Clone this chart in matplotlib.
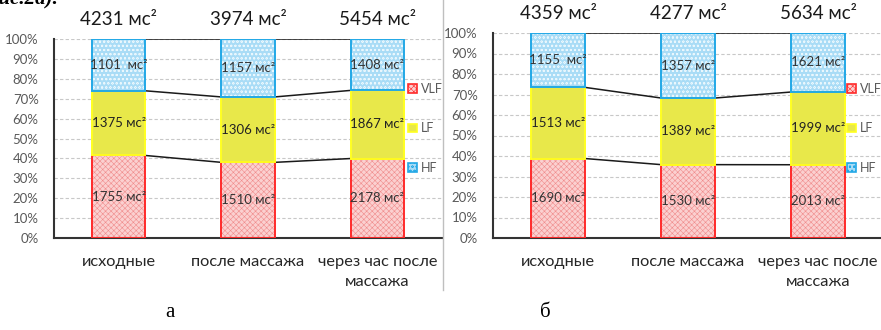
import numpy as np
import matplotlib
matplotlib.use("Agg")
from matplotlib import pyplot as plt
from matplotlib.patches import Patch
from matplotlib.lines import Line2D

# данные
categories = ['исходные', 'после массажа', 'через час после\nмассажа']
totals_a = ['4231', '3974', '5454']
vlf_a = [1755, 1510, 2178]
lf_a = [1375, 1306, 1867]
hf_a = [1101, 1157, 1408]
hf_text_a = ['1101  мс²', '1157 мс²', '1408 мс²']

totals_b = ['4359', '4277', '5634']
vlf_b = [1690, 1530, 2013]
lf_b = [1513, 1389, 1999]
hf_b = [1155, 1357, 1621]
hf_text_b = ['1155  мс²', '1357 мс²', '1621 мс²']

yticks = np.arange(0, 101, 10)

plt.rcParams['hatch.linewidth'] = 0.4
FONT = ['Lato', 'DejaVu Sans']
GRAY = '#595959'

red_fill, red_edge, red_hatch = '#fbd0d0', '#ff2a2a', '#f08c8c'
yel_fill, yel_edge = '#e8e84a', '#ffff20'
blue_fill, blue_edge, blue_hatch = '#a9dcf6', '#22a8e6', '#eaf7fd'


def draw(ax, vlf, lf, hf, totals, hf_text):
    vlf = np.array(vlf, float)
    lf = np.array(lf, float)
    hf = np.array(hf, float)
    s = vlf + lf + hf
    p1 = vlf / s * 100
    p2 = lf / s * 100
    p3 = hf / s * 100
    x = np.arange(len(vlf))
    w = 0.41

    segs = [(p1, 0, red_fill, red_edge, red_hatch, 'xxxxxx'),
            (p2, p1, yel_fill, yel_edge, yel_fill, None),
            (p3, p1 + p2, blue_fill, blue_edge, blue_hatch, 'oooo')]
    for h, b, fc, ec, hc, hatch in segs:
        ax.bar(x, h, w, bottom=b, color=fc, edgecolor=hc, hatch=hatch,
               linewidth=0, zorder=2)
        ax.bar(x, h, w, bottom=b, facecolor='none', edgecolor=ec,
               linewidth=1.4, zorder=3)

    # линии рядов
    for lev in [p1, p1 + p2, p1 + p2 + p3]:
        for i in range(len(x) - 1):
            ax.plot([x[i] + w / 2, x[i + 1] - w / 2], [lev[i], lev[i + 1]],
                    color='#1a1a1a', lw=1.1, zorder=1)

    for i in range(len(x)):
        ax.text(x[i], p1[i] / 2, f'{int(vlf[i])} мс²', ha='center', va='center',
                fontsize=9.5, color='#333333', family=FONT, zorder=4)
        ax.text(x[i], p1[i] + p2[i] / 2, f'{int(lf[i])} мс²', ha='center',
                va='center', fontsize=9.5, color='#222222', family=FONT, zorder=4)
        ax.text(x[i], p1[i] + p2[i] + p3[i] / 2, hf_text[i], ha='center',
                va='center', fontsize=9.5, color='#333333', family=FONT, zorder=4)
        ax.annotate(f'{totals[i]} мс²', (x[i], 100), xytext=(0, 8),
                    textcoords='offset points', ha='center', va='bottom',
                    fontsize=13.5, color='#1a1a1a', family=FONT)

    ax.set_xlim(-0.5, 2.5)
    ax.set_ylim(0, 100)
    ax.set_yticks(yticks)
    ax.set_yticklabels([f'{v}%' for v in yticks], family=FONT, fontsize=9.5,
                       color=GRAY)
    ax.set_xticks(x)
    ax.set_xticklabels(categories, family=FONT, fontsize=11.8, color='#262626',
                       linespacing=1.55)
    ax.tick_params(axis='y', length=0, pad=11)
    ax.tick_params(axis='x', length=0, pad=12)
    ax.grid(axis='y', ls=(0, (3, 2)), color='#c8c8c8', lw=0.8, zorder=0)
    ax.set_axisbelow(True)
    for sp in ['top', 'right']:
        ax.spines[sp].set_visible(False)
    for sp in ['left', 'bottom']:
        ax.spines[sp].set_color('#333333')
        ax.spines[sp].set_linewidth(1.5)

    handles = [Patch(facecolor=red_fill, edgecolor=red_edge, hatch='xxxxxx', lw=1.2),
               Patch(facecolor=yel_fill, edgecolor=yel_edge, lw=1.2),
               Patch(facecolor=blue_fill, edgecolor=blue_edge, hatch='oooo', lw=1.2)]
    return handles


fig = plt.figure(figsize=(8.81, 3.30), dpi=100)
W, H = 881, 330

ax_a = fig.add_axes([54 / W, (H - 238) / H, 388 / W, 199 / H])
ax_b = fig.add_axes([493 / W, (H - 238) / H, 390 / W, 205 / H])

h = draw(ax_a, vlf_a, lf_a, hf_a, totals_a, hf_text_a)
draw(ax_b, vlf_b, lf_b, hf_b, totals_b, hf_text_b)

for lx in [408, 847]:
    fig.legend(h, ['VLF', 'LF', 'HF'], loc='upper left',
               bbox_to_anchor=(lx / W, (H - 83) / H), frameon=False,
               handlelength=0.7, handleheight=0.7, handletextpad=0.3,
               labelspacing=2.2, borderpad=0, borderaxespad=0,
               prop={'family': FONT, 'size': 9}, labelcolor=GRAY)

# разделитель между диаграммами
fig.add_artist(Line2D([443 / W, 443 / W], [(H - 290) / H, 1.0],
                      color='#bfbfbf', lw=1.0))

fig.text(170 / W, 8 / H, 'а', ha='center', va='bottom', fontsize=15,
         family='Liberation Serif')
fig.text(545 / W, 8 / H, 'б', ha='center', va='bottom', fontsize=15,
         family='Liberation Serif')
fig.text(-12 / W, 1.0 + 11 / H, 'рис.2а).', ha='left', va='top', fontsize=15,
         family='Liberation Serif', style='italic', weight='bold')

fig.savefig('out.png', dpi=100)
